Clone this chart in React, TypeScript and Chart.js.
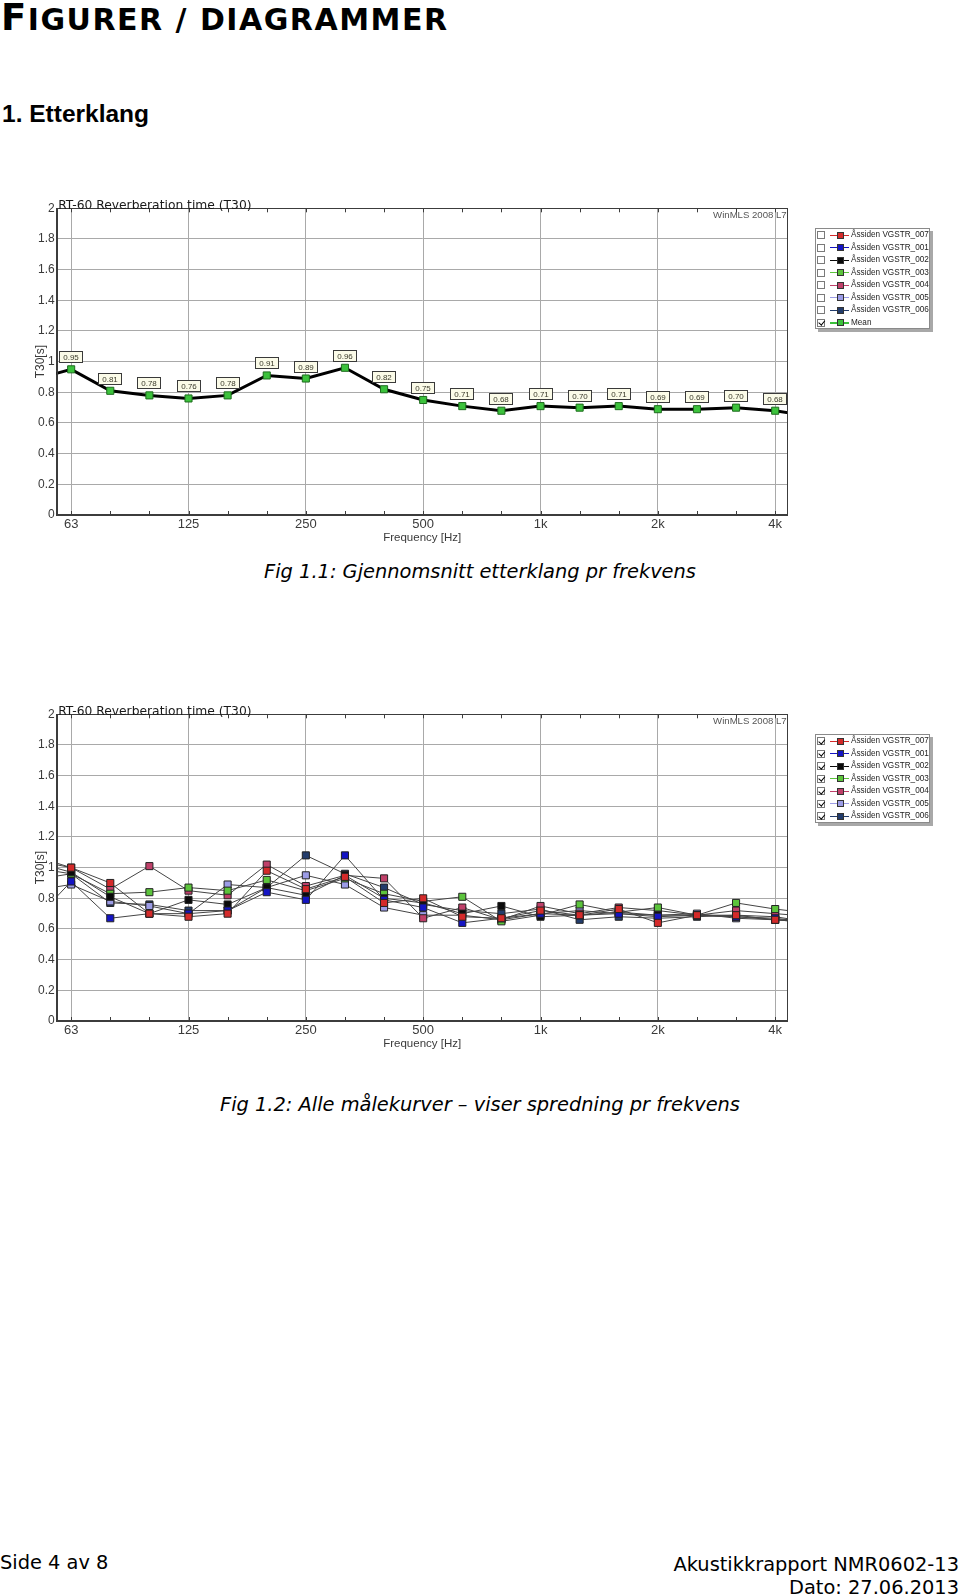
import React, { useEffect, useRef } from 'react';
import { Chart, registerables } from 'chart.js';

Chart.register(...registerables);
Chart.defaults.font.family = '"Liberation Sans", Arial, sans-serif';

// 1/3-octave bands; first (50) and last (5k) lie just outside the visible range
const bandLabels = ['50', '63', '80', '100', '125', '160', '200', '250', '315', '400', '500', '630', '800', '1k', '1.25k', '1.6k', '2k', '2.5k', '3.15k', '4k', '5k'];
const axisLabelBands = ['63', '125', '250', '500', '1k', '2k', '4k'];
const yTickValues = [0, 0.2, 0.4, 0.6, 0.8, 1, 1.2, 1.4, 1.6, 1.8, 2];

const meanT30 = [0.88, 0.95, 0.81, 0.78, 0.76, 0.78, 0.91, 0.89, 0.96, 0.82, 0.75, 0.71, 0.68, 0.71, 0.70, 0.71, 0.69, 0.69, 0.70, 0.68, 0.64];

const t30_007 = [1.05, 1.00, 0.90, 0.70, 0.68, 0.70, 0.98, 0.86, 0.94, 0.77, 0.80, 0.68, 0.67, 0.72, 0.69, 0.73, 0.64, 0.69, 0.69, 0.66, 0.64];
const t30_001 = [0.64, 0.91, 0.67, 0.70, 0.70, 0.72, 0.84, 0.79, 1.08, 0.79, 0.74, 0.64, 0.67, 0.70, 0.69, 0.70, 0.68, 0.69, 0.68, 0.67, 0.64];
const t30_002 = [1.04, 0.97, 0.81, 0.70, 0.79, 0.76, 0.87, 0.82, 0.95, 0.80, 0.77, 0.70, 0.75, 0.68, 0.69, 0.71, 0.69, 0.69, 0.68, 0.66, 0.64];
const t30_003 = [0.92, 0.96, 0.83, 0.84, 0.87, 0.85, 0.92, 0.85, 0.93, 0.83, 0.78, 0.81, 0.65, 0.69, 0.76, 0.71, 0.74, 0.69, 0.77, 0.73, 0.70];
const t30_004 = [1.08, 1.00, 0.86, 1.01, 0.85, 0.82, 1.02, 0.88, 0.95, 0.93, 0.67, 0.74, 0.66, 0.75, 0.70, 0.74, 0.72, 0.69, 0.72, 0.70, 0.68];
const t30_005 = [0.85, 0.89, 0.78, 0.75, 0.70, 0.89, 0.87, 0.95, 0.89, 0.74, 0.69, 0.69, 0.66, 0.70, 0.72, 0.70, 0.69, 0.70, 0.67, 0.66, 0.66];
const t30_006 = [1.00, 0.96, 0.77, 0.76, 0.72, 0.72, 0.87, 1.08, 0.96, 0.87, 0.76, 0.72, 0.70, 0.73, 0.66, 0.68, 0.67, 0.68, 0.69, 0.68, 0.64];

const seriesNames = ['Åssiden VGSTR_007', 'Åssiden VGSTR_001', 'Åssiden VGSTR_002', 'Åssiden VGSTR_003', 'Åssiden VGSTR_004', 'Åssiden VGSTR_005', 'Åssiden VGSTR_006'];
const seriesColors = ['#d42a2a', '#1414c4', '#0a0a0a', '#5cc43c', '#c0406a', '#9c9ce6', '#223c6c'];
const seriesValues = [t30_007, t30_001, t30_002, t30_003, t30_004, t30_005, t30_006];
const meanName = 'Mean';
const meanColor = '#3cc23c';

const chartTitle = 'RT-60 Reverberation time (T30)';
const stampText = 'WinMLS 2008 L7';

const toPoints = (vals: number[]) => vals.map((v, i) => ({ x: i - 1, y: v }));
const isMajor = (v: number) => axisLabelBands.includes(bandLabels[Math.round(v) + 1]);

const framePlugin = {
  id: 'frame',
  afterDraw(chart: any) {
    const { ctx, chartArea: a, scales } = chart;
    const x = scales.x;
    ctx.save();
    ctx.strokeStyle = '#3c3c3c';
    ctx.lineWidth = 1;
    ctx.strokeRect(Math.round(a.left) + 0.5, Math.round(a.top) + 0.5, Math.round(a.right - a.left) - 1, Math.round(a.bottom - a.top) - 1);
    ctx.beginPath();
    for (let k = 0; k < bandLabels.length - 2; k++) {
      const px = Math.round(x.getPixelForValue(k)) + 0.5;
      ctx.moveTo(px, a.top);
      ctx.lineTo(px, a.top + 4);
      ctx.moveTo(px, a.bottom);
      ctx.lineTo(px, a.bottom - 4);
    }
    ctx.stroke();
    ctx.fillStyle = '#1a1a1a';
    ctx.font = '12.3px "DejaVu Sans"';
    ctx.textAlign = 'left';
    ctx.textBaseline = 'alphabetic';
    ctx.fillText(chartTitle, a.left + 1.5, a.top + 0.5);
    ctx.fillStyle = '#555';
    ctx.font = '9.6px "Liberation Sans"';
    ctx.textAlign = 'right';
    ctx.fillText(stampText, a.right - 1, a.top + 10);
    ctx.restore();
  },
};

const valueBoxPlugin = {
  id: 'valueBoxes',
  afterDatasetsDraw(chart: any) {
    const { ctx } = chart;
    const meta = chart.getDatasetMeta(0);
    const data = chart.data.datasets[0].data as { x: number; y: number }[];
    ctx.save();
    ctx.font = '8px "Liberation Sans"';
    ctx.textAlign = 'center';
    ctx.textBaseline = 'middle';
    meta.data.forEach((pt: any, i: number) => {
      if (i === 0 || i === data.length - 1) return;
      const txt = data[i].y.toFixed(2);
      const cx = Math.round(pt.x);
      const cy = Math.round(pt.y - 12);
      ctx.fillStyle = '#fbfbe8';
      ctx.fillRect(cx - 11.5, cy - 5.5, 23, 11);
      ctx.strokeStyle = '#3a3a3a';
      ctx.lineWidth = 1;
      ctx.strokeRect(cx - 11.5, cy - 5.5, 23, 11);
      ctx.fillStyle = '#3a3a2a';
      ctx.fillText(txt, cx, cy + 0.5);
    });
    ctx.restore();
  },
};

function baseOptions(): any {
  return {
    responsive: false,
    animation: false,
    devicePixelRatio: 1,
    layout: { padding: { left: 0, top: 28.3, right: 172.3, bottom: 5 } },
    plugins: { legend: { display: false }, tooltip: { enabled: false }, title: { display: false } },
    scales: {
      x: {
        type: 'linear',
        min: -0.37,
        max: 18.32,
        afterBuildTicks: (s: any) => {
          s.ticks = bandLabels.slice(1, -1).map((_, k) => ({ value: k }));
        },
        afterFit: (s: any) => {
          s.height = 30;
        },
        ticks: {
          autoSkip: false,
          maxRotation: 0,
          padding: 2,
          color: '#3a3a3a',
          font: { size: 13 },
          callback: (v: number) => (isMajor(v) ? bandLabels[Math.round(v) + 1] : ''),
        },
        grid: {
          drawTicks: false,
          color: (c: any) => (c.tick && isMajor(c.tick.value) ? '#a9a9a9' : 'rgba(0,0,0,0)'),
        },
        border: { display: true, color: '#3c3c3c' },
        title: { display: true, text: 'Frequency [Hz]', color: '#3a3a3a', font: { size: 11.5 }, padding: { top: 0, bottom: 0 } },
      },
      y: {
        type: 'linear',
        min: 0,
        max: 2,
        afterBuildTicks: (s: any) => {
          s.ticks = yTickValues.map((v) => ({ value: v }));
        },
        afterFit: (s: any) => {
          s.width = 56.7;
        },
        ticks: {
          padding: 2,
          color: '#3a3a3a',
          font: { size: 12 },
          callback: (v: number) => String(Math.round(v * 10) / 10),
        },
        grid: { drawTicks: false, color: '#a9a9a9' },
        border: { display: true, color: '#3c3c3c' },
        title: { display: true, text: 'T30[s]', color: '#3a3a3a', font: { size: 12 }, padding: { top: 33, bottom: 0 } },
      },
    },
  };
}

const edgeRadius = (r: number) => (c: any) => (c.dataIndex === 0 || c.dataIndex === bandLabels.length - 1 ? 0 : r);

function meanConfig(): any {
  return {
    type: 'line',
    data: {
      datasets: [
        {
          label: meanName,
          data: toPoints(meanT30),
          borderColor: '#000',
          borderWidth: 3,
          tension: 0,
          pointStyle: 'rect',
          pointRadius: edgeRadius(5),
          pointBackgroundColor: meanColor,
          pointBorderColor: '#1d6b1d',
          pointBorderWidth: 1,
        },
      ],
    },
    options: baseOptions(),
    plugins: [framePlugin, valueBoxPlugin],
  };
}

function allConfig(): any {
  return {
    type: 'line',
    data: {
      datasets: seriesValues.map((vals, i) => ({
        label: seriesNames[i],
        data: toPoints(vals),
        borderColor: '#444',
        borderWidth: 1,
        tension: 0,
        pointStyle: 'rect',
        pointRadius: edgeRadius(5),
        pointBackgroundColor: seriesColors[i],
        pointBorderColor: '#222',
        pointBorderWidth: 1,
      })),
    },
    options: baseOptions(),
    plugins: [framePlugin],
  };
}

function RtChart({ top, makeConfig }: { top: number; makeConfig: () => any }) {
  const ref = useRef<HTMLCanvasElement>(null);
  useEffect(() => {
    const chart = new Chart(ref.current as HTMLCanvasElement, makeConfig());
    return () => chart.destroy();
  }, []);
  return <canvas ref={ref} width={960} height={370} style={{ position: 'absolute', left: 0, top, width: 960, height: 370 }} />;
}

type LegendItem = { name: string; color: string; checked: boolean; thick?: boolean };

function Legend({ left, top, items }: { left: number; top: number; items: LegendItem[] }) {
  const rowH = 12.5;
  return (
    <div
      style={{
        position: 'absolute',
        left,
        top,
        width: 115,
        height: items.length * rowH + 1,
        border: '1px solid #8a8a8a',
        background: '#fff',
        boxShadow: '3px 3px 0 #a8a8a8',
        boxSizing: 'border-box',
      }}
    >
      {items.map((it, i) => (
        <div key={i} style={{ position: 'absolute', left: 0, top: i * rowH, height: rowH, width: '100%' }}>
          <div
            style={{
              position: 'absolute',
              left: 1,
              top: 2,
              width: 8,
              height: 8,
              border: '1px solid #7a7a7a',
              boxSizing: 'border-box',
              background: '#fff',
            }}
          >
            {it.checked && (
              <div
                style={{
                  position: 'absolute',
                  left: 1.5,
                  top: -0.5,
                  width: 2.5,
                  height: 4.5,
                  borderRight: '1.5px solid #000',
                  borderBottom: '1.5px solid #000',
                  transform: 'rotate(40deg)',
                }}
              />
            )}
          </div>
          <div
            style={{
              position: 'absolute',
              left: 14,
              top: rowH / 2 - (it.thick ? 1 : 0.5),
              width: 19,
              height: it.thick ? 2 : 1,
              background: it.color,
            }}
          />
          <div
            style={{
              position: 'absolute',
              left: 20.5,
              top: rowH / 2 - 3.5,
              width: 7,
              height: 7,
              background: it.color,
              border: '1px solid #333',
              boxSizing: 'border-box',
            }}
          />
          <div
            style={{
              position: 'absolute',
              left: 35,
              top: 0,
              lineHeight: `${rowH}px`,
              fontSize: 8.2,
              fontFamily: '"Liberation Sans", Arial, sans-serif',
              color: '#222',
              whiteSpace: 'nowrap',
            }}
          >
            {it.name}
          </div>
        </div>
      ))}
    </div>
  );
}

export default function App() {
  const legend1: LegendItem[] = [
    ...seriesNames.map((n, i) => ({ name: n, color: seriesColors[i], checked: false })),
    { name: meanName, color: meanColor, checked: true, thick: true },
  ];
  const legend2: LegendItem[] = seriesNames.map((n, i) => ({ name: n, color: seriesColors[i], checked: true }));
  const verdana = '"DejaVu Sans", Verdana, sans-serif';
  return (
    <div style={{ position: 'absolute', left: 0, top: 0, width: 960, height: 1595, overflow: 'hidden', background: '#fff', color: '#000' }}>
      <div
        style={{
          position: 'absolute',
          left: 1,
          top: -1.3,
          fontFamily: verdana,
          fontWeight: 'bold',
          fontSize: 37,
          lineHeight: '37px',
          whiteSpace: 'nowrap',
          letterSpacing: 1.5,
        }}
      >
        <span>F</span>
        <span style={{ fontSize: 30 }}>IGURER / DIAGRAMMER</span>
      </div>
      <div
        style={{
          position: 'absolute',
          left: 2,
          top: 102.3,
          fontFamily: '"Liberation Sans", Arial, sans-serif',
          fontWeight: 'bold',
          fontSize: 24.5,
          lineHeight: 1,
          whiteSpace: 'nowrap',
        }}
      >
        1. Etterklang
      </div>

      <RtChart top={180} makeConfig={meanConfig} />
      <Legend left={815} top={228} items={legend1} />
      <div
        style={{
          position: 'absolute',
          left: 0,
          width: 960,
          top: 561.6,
          textAlign: 'center',
          fontFamily: verdana,
          fontStyle: 'italic',
          fontSize: 19.4,
          lineHeight: 1,
          whiteSpace: 'nowrap',
        }}
      >
        Fig 1.1: Gjennomsnitt etterklang pr frekvens
      </div>

      <RtChart top={686} makeConfig={allConfig} />
      <Legend left={815} top={734} items={legend2} />
      <div
        style={{
          position: 'absolute',
          left: 0,
          width: 960,
          top: 1094.6,
          textAlign: 'center',
          fontFamily: verdana,
          fontStyle: 'italic',
          fontSize: 19.4,
          lineHeight: 1,
          whiteSpace: 'nowrap',
        }}
      >
        Fig 1.2: Alle målekurver – viser spredning pr frekvens
      </div>

      <div style={{ position: 'absolute', left: 0, top: 1552.6, fontFamily: verdana, fontSize: 19.4, lineHeight: 1, whiteSpace: 'nowrap' }}>
        Side 4 av 8
      </div>
      <div
        style={{
          position: 'absolute',
          right: 1,
          top: 1552.6,
          fontFamily: verdana,
          fontSize: 19.4,
          lineHeight: '23px',
          textAlign: 'right',
          whiteSpace: 'nowrap',
        }}
      >
        Akustikkrapport NMR0602-13
        <br />
        Dato: 27.06.2013
      </div>
    </div>
  );
}
